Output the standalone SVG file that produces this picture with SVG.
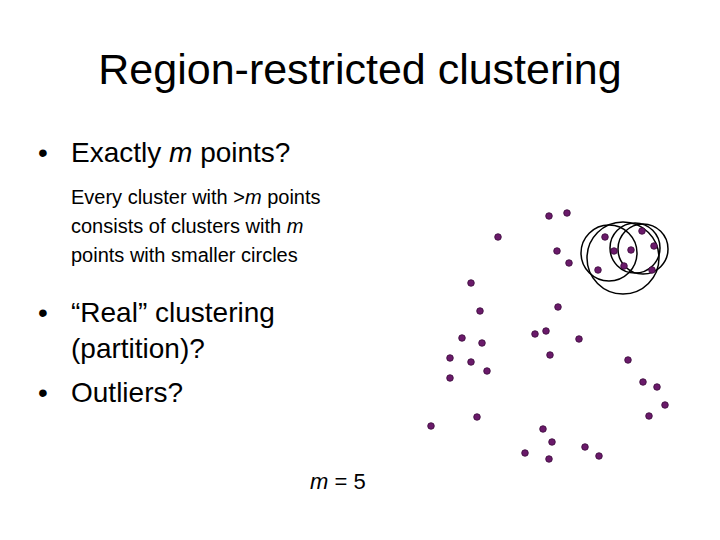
<svg xmlns="http://www.w3.org/2000/svg" width="720" height="540" viewBox="0 0 720 540">
<style>
text{font-family:"Liberation Sans",Arial,sans-serif;fill:#000}
.d{fill:#6a1a6a;stroke:#3a0a3a;stroke-width:0.8}
.c{fill:none;stroke:#000;stroke-width:1.5}
</style>
<rect width="720" height="540" fill="#fff"/>
<text x="360" y="84" font-size="43" text-anchor="middle">Region-restricted clustering</text>
<text x="38" y="162" font-size="28">•</text><text x="71" y="162" font-size="28">Exactly <tspan font-style="italic">m</tspan> points?</text>
<text font-size="20"><tspan x="71" y="204">Every cluster with &gt;<tspan font-style="italic">m</tspan> points</tspan><tspan x="71" y="233">consists of clusters with <tspan font-style="italic">m</tspan></tspan><tspan x="71" y="262">points with smaller circles</tspan></text>
<text x="38" y="322" font-size="28">•</text><text x="71" y="322" font-size="28">“Real” clustering</text>
<text x="71" y="358" font-size="28">(partition)?</text>
<text x="38" y="402" font-size="28">•</text><text x="71" y="402" font-size="28">Outliers?</text>
<text x="310" y="489" font-size="22"><tspan font-style="italic">m</tspan> = 5</text>
<g id="circles">
<circle class="c" cx="609" cy="253" r="28"/>
<circle class="c" cx="623" cy="258" r="36"/>
<circle class="c" cx="635" cy="248" r="25"/>
<circle class="c" cx="643" cy="249" r="25"/>
</g>
<g id="points">
<circle class="d" cx="549" cy="216" r="3.3"/><circle class="d" cx="567" cy="213" r="3.3"/><circle class="d" cx="498" cy="237" r="3.3"/><circle class="d" cx="557" cy="251" r="3.3"/><circle class="d" cx="569" cy="263" r="3.3"/><circle class="d" cx="471" cy="283" r="3.3"/><circle class="d" cx="480" cy="311" r="3.3"/><circle class="d" cx="558" cy="307" r="3.3"/><circle class="d" cx="535" cy="334" r="3.3"/><circle class="d" cx="546" cy="331" r="3.3"/><circle class="d" cx="579" cy="339" r="3.3"/><circle class="d" cx="462" cy="338" r="3.3"/><circle class="d" cx="482" cy="343" r="3.3"/><circle class="d" cx="450" cy="358" r="3.3"/><circle class="d" cx="471" cy="362" r="3.3"/><circle class="d" cx="487" cy="371" r="3.3"/><circle class="d" cx="450" cy="378" r="3.3"/><circle class="d" cx="550" cy="355" r="3.3"/><circle class="d" cx="628" cy="360" r="3.3"/><circle class="d" cx="643" cy="382" r="3.3"/><circle class="d" cx="657" cy="387" r="3.3"/><circle class="d" cx="665" cy="405" r="3.3"/><circle class="d" cx="649" cy="416" r="3.3"/><circle class="d" cx="477" cy="417" r="3.3"/><circle class="d" cx="431" cy="426" r="3.3"/><circle class="d" cx="543" cy="429" r="3.3"/><circle class="d" cx="552" cy="442" r="3.3"/><circle class="d" cx="585" cy="447" r="3.3"/><circle class="d" cx="525" cy="453" r="3.3"/><circle class="d" cx="549" cy="459" r="3.3"/><circle class="d" cx="599" cy="456" r="3.3"/>
<circle class="d" cx="605" cy="237" r="3.3"/><circle class="d" cx="642" cy="231" r="3.3"/><circle class="d" cx="654" cy="246" r="3.3"/><circle class="d" cx="614" cy="251" r="3.3"/><circle class="d" cx="631" cy="250" r="3.3"/><circle class="d" cx="624" cy="266" r="3.3"/><circle class="d" cx="598" cy="270" r="3.3"/><circle class="d" cx="652" cy="270" r="3.3"/>
</g>
</svg>
